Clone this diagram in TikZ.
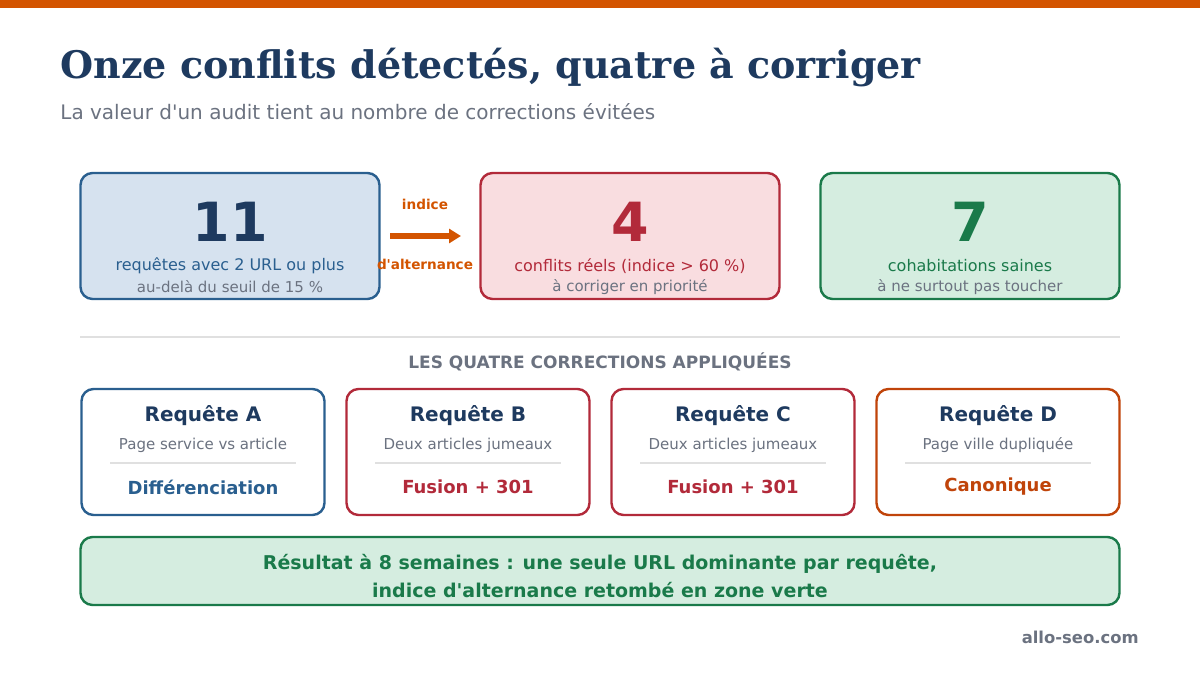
\documentclass[tikz,border=0pt]{standalone}
\usepackage{fontspec}
\setmainfont{DejaVu Sans}
\newfontfamily\titlefont{DejaVu Serif}
\usetikzlibrary{positioning,arrows.meta}
\definecolor{navy}{HTML}{1E3A5F}
\definecolor{bar}{HTML}{D35400}
\definecolor{greytxt}{HTML}{6B7280}
\definecolor{blueln}{HTML}{2A5F8F}
\definecolor{bluefl}{HTML}{D6E2EF}
\definecolor{redln}{HTML}{B22A3A}
\definecolor{redfl}{HTML}{F9DDE0}
\definecolor{greenln}{HTML}{1A7A4A}
\definecolor{greenfl}{HTML}{D5EDE0}
\definecolor{orangeln}{HTML}{C0440A}
\tikzset{
  stat/.style={draw, line width=1.2pt, rounded corners=6pt, minimum width=149.5pt, minimum height=63pt},
  fix/.style={draw, line width=1.2pt, rounded corners=6pt, fill=white, minimum width=121.5pt, minimum height=63pt},
  big/.style={font=\fontsize{27}{27}\selectfont\bfseries},
  line1/.style={font=\fontsize{8}{9}\selectfont},
  line2/.style={font=\fontsize{7.5}{8}\selectfont, text=greytxt},
}
\begin{document}
\begin{tikzpicture}[x=0.5pt, y=-0.5pt]
  \useasboundingbox (0,0) rectangle (1200,675);
  \fill [bar] (0,0) rectangle (1200,8);
  % title
  \node [anchor=west, inner sep=0pt, text=navy, font=\titlefont\fontsize{19}{20}\selectfont\bfseries] (title) at (60,68) {Onze conflits détectés, quatre à corriger};
  \node [anchor=west, inner sep=0pt, text=greytxt, font=\fontsize{10}{10}\selectfont] (sub) at (60,112) {La valeur d\textquotesingle un audit tient au nombre de corrections évitées};
  % stat boxes
  \node [stat, draw=blueln, fill=bluefl] (sa) at (230,236) {};
  \node [stat, draw=redln, fill=redfl] (sb) at (630,236) {};
  \node [stat, draw=greenln, fill=greenfl] (sc) at (970,236) {};
  \node [big, text=navy] (na) at (230,222) {11};
  \node [line1, text=blueln] (ta) at (230,266) {requêtes avec 2 URL ou plus};
  \node [line2] (ua) at (230,287) {au-delà du seuil de 15 \%};
  \node [big, text=redln] (nb) at (630,222) {4};
  \node [line1, text=redln] (tb) at (630,266) {conflits réels (indice > 60 \%)};
  \node [line2] (ub) at (630,287) {à corriger en priorité};
  \node [big, text=greenln] (nc) at (970,222) {7};
  \node [line1, text=greenln] (tc) at (970,266) {cohabitations saines};
  \node [line2] (uc) at (970,287) {à ne surtout pas toucher};
  % arrow
  \coordinate (p1) at (390,236);
  \coordinate (p2) at (461,236);
  \draw [bar, line width=2.6pt, -{Triangle[length=6pt,width=7pt]}] (p1) -- (p2);
  \node [text=bar, font=\fontsize{6.8}{7}\selectfont\bfseries] (ia) at (425,204) {indice};
  \node [text=bar, font=\fontsize{6.8}{7}\selectfont\bfseries] (ib) at (425,264) {d\textquotesingle alternance};
  % separator
  \coordinate (s1) at (80,337);
  \coordinate (s2) at (1120,337);
  \draw [black!12, line width=0.8pt] (s1) -- (s2);
  \node [text=greytxt, font=\fontsize{8.5}{9}\selectfont\bfseries] (sect) at (600,362) {LES QUATRE CORRECTIONS APPLIQUÉES};
  % corrections
  \foreach \i/\x/\col/\req/\desc/\act in {
      a/203/blueln/A/Page service vs article/Différenciation,
      b/468/redln/B/Deux articles jumeaux/Fusion + 301,
      c/733/redln/C/Deux articles jumeaux/Fusion + 301,
      d/998/orangeln/D/Page ville dupliquée/Canonique} {
    \node [fix, draw=\col] (f\i) at (\x,452) {};
    \node [text=navy, font=\fontsize{10}{10}\selectfont\bfseries] (r\i) at (\x,416) {Requête \req};
    \node [line2] (d\i) at (\x,445) {\desc};
    \draw [black!12, line width=0.7pt] (\x-93,463) -- (\x+93,463);
    \node [text=\col, font=\fontsize{9}{9}\selectfont\bfseries] (c\i) at (\x,487) {\act};
  }
  % result
  \node [draw=greenln, fill=greenfl, line width=1.2pt, rounded corners=6pt, minimum width=519.5pt, minimum height=34pt] (res) at (600,571) {};
  \node [text=greenln, align=center, font=\fontsize{9.5}{14}\selectfont\bfseries] (rt) at (600,576) {Résultat à 8 semaines : une seule URL dominante par requête,\\indice d\textquotesingle alternance retombé en zone verte};
  \node [anchor=east, inner sep=0pt, text=greytxt, font=\fontsize{8.2}{9}\selectfont\bfseries] (foot) at (1139,637) {allo-seo.com};
\end{tikzpicture}
\end{document}
